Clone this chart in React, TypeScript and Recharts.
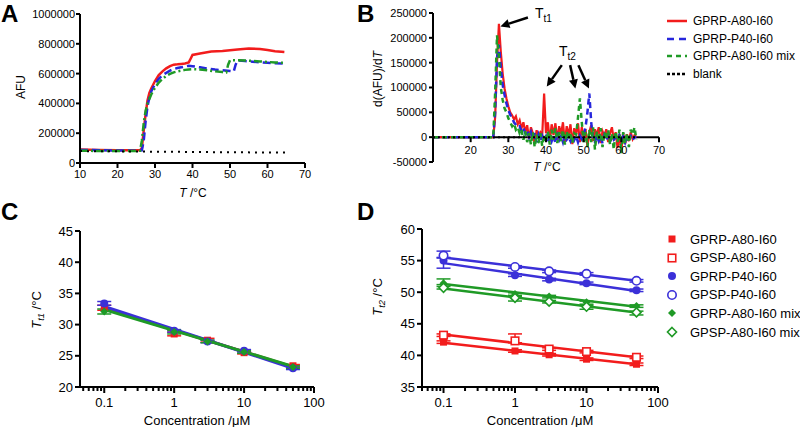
import React from "react";
import {
  LineChart,
  ComposedChart,
  Line,
  Scatter,
  XAxis,
  YAxis,
  ReferenceLine,
  ErrorBar,
} from "recharts";

const FONT = '"Liberation Sans", Arial, Helvetica, sans-serif';
const RED = "#f21c1c";
const BLUE = "#2626dc";
const GREEN = "#1f9a26";
const BLUE_D = "#3b30d8";

// ---- panel A: raw fluorescence, [T, AFU]
const aRed = [
  [10, 90000], [15, 88000], [20, 86000], [25, 85000], [26, 85000], [26.5, 100000],
  [27, 220000], [27.5, 330000], [28, 420000], [28.5, 470000], [29, 500000], [30, 550000],
  [31, 590000], [32, 615000], [33, 635000], [34, 650000], [35, 660000], [36, 662000],
  [37, 665000], [38, 668000], [39, 675000], [39.5, 700000], [40, 725000], [42, 735000],
  [45, 748000], [48, 752000], [50, 757000], [52, 762000], [55, 768000], [58, 765000],
  [60, 758000], [62, 750000], [64.5, 745000],
];
const aBlue = [
  [10, 88000], [20, 84000], [25, 83000], [26.5, 85000], [27, 150000], [27.5, 280000],
  [28, 380000], [28.5, 440000], [29, 480000], [30, 530000], [31, 565000], [32, 590000],
  [33, 605000], [34, 620000], [35, 630000], [36, 638000], [37, 642000], [38, 648000],
  [39, 652000], [40, 650000], [42, 642000], [44, 634000], [46, 627000], [48, 622000],
  [50, 618000], [51, 615000], [51.5, 660000], [52, 688000], [54, 684000], [56, 680000],
  [58, 676000], [60, 673000], [62, 670000], [64.5, 668000],
];
const aGreen = [
  [10, 82000], [20, 80000], [25, 80000], [26, 82000], [26.5, 150000], [27, 270000],
  [27.5, 350000], [28, 400000], [29, 460000], [30, 505000], [31, 540000], [32, 565000],
  [33, 585000], [34, 598000], [35, 608000], [36, 615000], [37, 620000], [38, 625000],
  [39, 628000], [40, 630000], [42, 628000], [44, 622000], [46, 615000], [48, 610000],
  [49, 608000], [49.5, 660000], [50, 690000], [52, 690000], [54, 688000], [56, 685000],
  [58, 682000], [60, 678000], [62, 675000], [64.5, 672000],
];
const aBlank = [[10, 80000], [20, 78000], [30, 76000], [40, 74000], [50, 72000], [65, 70000]];
const aXTicks = [10, 20, 30, 40, 50, 60, 70];
const aYTicks = [0, 200000, 400000, 600000, 800000, 1000000];

// ---- panel B: derivative, [T, d(AFU)/dT]
const bRed = [
  [10, 0], [15, 0], [20, 0], [25, 0], [26, 0], [26.5, 40000], [27, 150000], [27.5, 228000],
  [28, 172000], [28.5, 128000], [29, 98000], [29.5, 78000], [30, 62000], [30.5, 50000],
  [31, 44000], [31.5, 36000], [32, 42000], [32.5, 26000], [33, 34000], [33.5, 18000],
  [34, 30000], [34.5, 10000], [35, 24000], [35.5, -4000], [36, 20000], [36.5, 8000],
  [37, -14000], [37.5, 14000], [38, 2000], [38.5, 10000], [39, 4000], [39.5, 88000],
  [40, 8000], [40.5, 30000], [41, -8000], [41.5, 26000], [42, 4000], [42.5, 28000],
  [43, -6000], [43.5, 22000], [44, 6000], [44.5, 30000], [45, -10000], [45.5, 22000],
  [46, 4000], [46.5, 26000], [47, -14000], [47.5, 18000], [48, 6000], [48.5, 28000],
  [49, -10000], [49.5, 20000], [50, 2000], [50.5, 16000], [51, -18000], [51.5, 10000],
  [52, 24000], [52.5, -8000], [53, 16000], [53.5, 4000], [54, 20000], [54.5, -12000],
  [55, 12000], [55.5, 2000], [56, 16000], [56.5, -10000], [57, 8000], [57.5, 20000],
  [58, -6000], [58.5, 10000], [59, -22000], [59.5, 6000], [60, -26000], [60.5, 8000],
  [61, -14000], [61.5, 6000], [62, -8000], [62.5, 10000], [63, -4000], [63.5, 4000], [64, 0],
];
const bBlue = [
  [10, 0], [15, 0], [20, 0], [25, 0], [26, 0], [26.5, 50000], [27, 160000], [27.5, 186000],
  [28, 140000], [28.5, 105000], [29, 85000], [29.5, 68000], [30, 55000], [30.5, 45000],
  [31, 38000], [31.5, 30000], [32, 25000], [32.5, 20000], [33, 22000], [33.5, 12000],
  [34, 18000], [34.5, 8000], [35, 14000], [35.5, 0], [36, 10000], [36.5, -5000],
  [37, 8000], [37.5, -10000], [38, 5000], [38.5, -8000], [39, 3000], [39.5, -5000],
  [40, 2000], [40.5, -10000], [41, 5000], [41.5, -8000], [42, 3000], [42.5, -12000],
  [43, 4000], [43.5, -6000], [44, 2000], [44.5, -10000], [45, 5000], [45.5, -5000],
  [46, 0], [46.5, -8000], [47, 4000], [47.5, -6000], [48, 2000], [48.5, -10000],
  [49, 3000], [49.5, -4000], [50, 5000], [50.5, 20000], [51, 50000], [51.5, 88000],
  [52, 30000], [52.5, -5000], [53, -10000], [53.5, 3000], [54, -8000], [54.5, 2000],
  [55, -12000], [55.5, 4000], [56, -6000], [56.5, 2000], [57, -10000], [57.5, 3000],
  [58, -5000], [58.5, 0], [59, -8000], [59.5, 4000], [60, -6000], [60.5, 2000],
  [61, -10000], [61.5, 3000], [62, -4000], [62.5, 2000], [63, -6000], [63.5, 0], [64, 0],
];
const bGreen = [
  [10, 0], [15, 0], [20, 0], [25, 0], [26, 0], [26.5, 90000], [27, 205000], [27.5, 160000],
  [28, 100000], [28.5, 75000], [29, 58000], [29.5, 50000], [30, 38000], [30.5, 30000],
  [31, 22000], [31.5, 28000], [32, 15000], [32.5, 20000], [33, 8000], [33.5, 15000],
  [34, -5000], [34.5, 12000], [35, -10000], [35.5, 8000], [36, -15000], [36.5, 10000],
  [37, -20000], [37.5, 5000], [38, -12000], [38.5, 8000], [39, -18000], [39.5, 5000],
  [40, -10000], [40.5, 12000], [41, -15000], [41.5, 15000], [42, -5000], [42.5, 18000],
  [43, -12000], [43.5, 10000], [44, -8000], [44.5, 15000], [45, -15000], [45.5, 12000],
  [46, -5000], [46.5, 10000], [47, -12000], [47.5, 8000], [48, 5000], [48.5, 40000],
  [49, 78000], [49.5, 30000], [50, -10000], [50.5, 10000], [51, -20000], [51.5, 15000],
  [52, -10000], [52.5, 20000], [53, -25000], [53.5, 12000], [54, -8000], [54.5, 18000],
  [55, -20000], [55.5, 10000], [56, -5000], [56.5, 15000], [57, -15000], [57.5, 8000],
  [58, -25000], [58.5, 12000], [59, -10000], [59.5, 15000], [60, -32000], [60.5, 10000],
  [61, -12000], [61.5, 8000], [62, -20000], [62.5, 15000], [63, 5000], [63.5, 20000], [64, -5000],
];
const bBlank = [[10, 0], [64, 0]];
const bXTicks = [20, 30, 40, 50, 60, 70];
const bYTicks = [-50000, 0, 50000, 100000, 150000, 200000, 250000];
const B_YMIN = -50000;
const B_YMAX = 250000;
// annotation arrows, data coordinates [T, value]
const bArrows = [
  { from: [35.2, 241000], to: [27.9, 223000] },
  { from: [44.2, 145000], to: [40.2, 102000] },
  { from: [46.4, 145000], to: [47.8, 98000] },
  { from: [48.6, 145000], to: [51.4, 98000] },
];
const bLegend = [
  { name: "GPRP-A80-I60", color: RED, dash: undefined },
  { name: "GPRP-P40-I60", color: BLUE, dash: "7 5" },
  { name: "GPRP-A80-I60 mix", color: GREEN, dash: "5 4" },
  { name: "blank", color: "#000", dash: "3 2" },
];

// ---- panel C: Tt1 vs concentration
const conc = [0.1, 1, 3, 10, 50];
const cRed = [32.7, 28.5, 27.5, 25.5, 23.4];
const cBlue = [33.4, 29.0, 27.3, 25.8, 23.0];
const cGreen = [32.1, 28.8, 27.3, 25.6, 23.2];
const cRedErr = [[0.4, 0.4], [0.3, 0.3], [0.3, 0.3], [0.2, 0.2], [0.2, 0.2]];
const cBlueErr = [[0.3, 0.3], [0.2, 0.2], [0.2, 0.2], [0.2, 0.2], [0.2, 0.2]];
const cGreenErr = [[0.4, 0.4], [0.3, 0.3], [0.2, 0.2], [0.2, 0.2], [0.2, 0.2]];
const cFitRed = [[0.1, 32.6], [50, 23.2]];
const cFitBlue = [[0.1, 32.9], [50, 23.0]];
const cFitGreen = [[0.1, 32.4], [50, 23.3]];

// ---- panel D: Tt2 vs concentration
const dRedFill = [42.1, 40.7, 40.1, 39.4, 38.6];
const dRedOpen = [43.2, 42.3, 41.0, 40.6, 39.7];
const dBlueFill = [55.0, 52.7, 52.0, 51.4, 50.3];
const dBlueOpen = [55.8, 54.0, 53.3, 52.9, 51.8];
const dGreenFill = [51.4, 49.7, 49.3, 48.4, 47.8];
const dGreenOpen = [50.7, 49.1, 48.5, 47.7, 46.8];
const dRedFillErr = [[0.2, 0.2], [0.2, 0.2], [0.2, 0.2], [0.2, 0.2], [0.2, 0.2]];
const dRedOpenErr = [[0.2, 0.2], [0.3, 1.1], [0.2, 0.2], [0.2, 0.2], [0.2, 0.2]];
const dBlueFillErr = [[1.2, 0.4], [0.2, 0.2], [0.2, 0.2], [0.2, 0.2], [0.2, 0.2]];
const dBlueOpenErr = [[0.3, 0.7], [0.2, 0.2], [0.2, 0.2], [0.2, 0.2], [0.2, 0.2]];
const dGreenFillErr = [[0.2, 0.7], [0.2, 0.2], [0.2, 0.2], [0.3, 0.2], [0.2, 0.2]];
const dGreenOpenErr = [[0.2, 0.2], [0.5, 0.2], [0.2, 0.2], [0.4, 0.2], [0.4, 0.2]];
const dFitRedFill = [[0.1, 42.0], [50, 38.6]];
const dFitRedOpen = [[0.1, 43.3], [50, 39.7]];
const dFitBlueFill = [[0.1, 54.6], [50, 50.2]];
const dFitBlueOpen = [[0.1, 55.5], [50, 51.8]];
const dFitGreenFill = [[0.1, 51.3], [50, 47.7]];
const dFitGreenOpen = [[0.1, 50.6], [50, 46.8]];
const dLegend = [
  { name: "GPRP-A80-I60", kind: "square", color: RED, filled: true },
  { name: "GPSP-A80-I60", kind: "square", color: RED, filled: false },
  { name: "GPRP-P40-I60", kind: "circle", color: BLUE_D, filled: true },
  { name: "GPSP-P40-I60", kind: "circle", color: BLUE_D, filled: false },
  { name: "GPRP-A80-I60 mix", kind: "diamond", color: GREEN, filled: true },
  { name: "GPSP-A80-I60 mix", kind: "diamond", color: GREEN, filled: false },
];

const logTicks = (lo: number, hi: number) =>
  [0.01, 0.1, 1, 10]
    .flatMap((d) => [1, 2, 3, 4, 5, 6, 7, 8, 9].map((m) => m * d))
    .concat([100])
    .filter((v) => v >= lo - 1e-9 && v <= hi + 1e-9);

const pts = (a: number[][]) => a.map(([x, y]) => ({ x, y }));
const scat = (ys: number[], errs: number[][]) =>
  conc.map((x, i) => ({ x, y: ys[i], err: errs[i] }));

const AX = { stroke: "#000", strokeWidth: 2 };
const TICK11 = { fill: "#000", fontSize: 11, fontFamily: FONT };
const TICK13 = { fill: "#000", fontSize: 13, fontFamily: FONT };

function Marker({ kind, color, filled, cx, cy }: any) {
  const fill = filled ? color : "#fff";
  const sw = filled ? 0 : 1.6;
  if (kind === "square") {
    const s = filled ? 7 : 7.5;
    return <rect x={cx - s / 2} y={cy - s / 2} width={s} height={s} fill={fill} stroke={color} strokeWidth={sw} />;
  }
  if (kind === "circle") {
    return <circle cx={cx} cy={cy} r={filled ? 4 : 4.2} fill={fill} stroke={color} strokeWidth={sw} />;
  }
  const r = filled ? 4 : 4.5;
  return (
    <polygon
      points={`${cx},${cy - r} ${cx + r},${cy} ${cx},${cy + r} ${cx - r},${cy}`}
      fill={fill}
      stroke={color}
      strokeWidth={sw}
    />
  );
}

const LogTick = (p: any) => {
  const { x, y, payload } = p;
  const v = payload.value;
  const lg = Math.log10(v);
  const major = Math.abs(lg - Math.round(lg)) < 1e-6;
  return (
    <g>
      <line x1={x} x2={x} y1={y} y2={y + (major ? 6 : 4)} stroke="#000" strokeWidth={2} />
      {major && (
        <text x={x} y={y + 20} textAnchor="middle" fontSize={13} fontFamily={FONT} fill="#000">
          {String(Number(v.toPrecision(3)))}
        </text>
      )}
    </g>
  );
};

const Arrow = (p: any) => {
  const { x1, y1, x2, y2 } = p;
  if ([x1, y1, x2, y2].some((v) => typeof v !== "number")) return null;
  const a = Math.atan2(y2 - y1, x2 - x1);
  const L = 9;
  const W = 4.5;
  const bx = x2 - L * Math.cos(a);
  const by = y2 - L * Math.sin(a);
  const poly = `${x2},${y2} ${bx - W * Math.sin(a)},${by + W * Math.cos(a)} ${bx + W * Math.sin(a)},${by - W * Math.cos(a)}`;
  return (
    <g>
      <line x1={x1} y1={y1} x2={bx} y2={by} stroke="#000" strokeWidth={2.5} />
      <polygon points={poly} fill="#000" />
    </g>
  );
};

function Txt({ x, y, size = 12, rotate = false, bold = false, children }: any) {
  return (
    <div
      style={{
        position: "absolute",
        left: x,
        top: y,
        transform: `translate(-50%, -50%)${rotate ? " rotate(-90deg)" : ""}`,
        fontSize: size,
        fontWeight: bold ? 700 : 400,
        whiteSpace: "nowrap",
        lineHeight: 1,
      }}
    >
      {children}
    </div>
  );
}

const Sub = ({ children }: any) => (
  <span style={{ fontSize: "0.72em", position: "relative", top: "0.35em" }}>{children}</span>
);

function PanelA() {
  return (
    <LineChart width={320} height={200} margin={{ top: 14, right: 15, bottom: 7, left: 10 }}>
      <XAxis dataKey="x" type="number" domain={[10, 70]} ticks={aXTicks} interval={0} allowDataOverflow
        height={30} axisLine={AX} tickLine={AX} tickSize={5} tickMargin={2} tick={TICK11} />
      <YAxis dataKey="y" type="number" domain={[0, 1000000]} ticks={aYTicks} interval={0} allowDataOverflow
        width={70} axisLine={AX} tickLine={AX} tickSize={4} tickMargin={1} tick={TICK11} />
      <Line data={pts(aRed)} dataKey="y" stroke={RED} strokeWidth={2.5} dot={false} isAnimationActive={false} />
      <Line data={pts(aBlue)} dataKey="y" stroke={BLUE} strokeWidth={2.5} strokeDasharray="8 4" dot={false} isAnimationActive={false} />
      <Line data={pts(aGreen)} dataKey="y" stroke={GREEN} strokeWidth={2.5} strokeDasharray="8 3 2 3" dot={false} isAnimationActive={false} />
      <Line data={pts(aBlank)} dataKey="y" stroke="#000" strokeWidth={2} strokeDasharray="2 5" dot={false} isAnimationActive={false} />
    </LineChart>
  );
}

function PanelB() {
  const top = 13;
  const bottom = 18;
  const xh = 20;
  const h = 200;
  const plotH = h - top - bottom - xh;
  const shift = (plotH * (0 - B_YMIN)) / (B_YMAX - B_YMIN);
  const BTick = (p: any) => {
    const { x, y, payload } = p;
    const y0 = y - shift;
    return (
      <g>
        <line x1={x} x2={x} y1={y0} y2={y0 + 5} stroke="#000" strokeWidth={2} />
        <text x={x} y={y0 + 17} textAnchor="middle" fontSize={11} fontFamily={FONT} fill="#000">
          {payload.value}
        </text>
      </g>
    );
  };
  return (
    <LineChart width={330} height={h} margin={{ top, right: 11, bottom, left: 18 }}>
      <XAxis dataKey="x" type="number" domain={[10, 70]} ticks={bXTicks} interval={0} allowDataOverflow
        height={xh} axisLine={false} tickLine={false} tickSize={0} tickMargin={0} tick={(p: any) => <BTick {...p} />} />
      <YAxis dataKey="y" type="number" domain={[B_YMIN, B_YMAX]} ticks={bYTicks} interval={0} allowDataOverflow
        width={75} axisLine={AX} tickLine={AX} tickSize={4} tickMargin={2} tick={TICK11} />
      <ReferenceLine y={0} stroke="#000" strokeWidth={2} />
      <Line data={pts(bRed)} dataKey="y" stroke={RED} strokeWidth={2.2} dot={false} isAnimationActive={false} />
      <Line data={pts(bBlue)} dataKey="y" stroke={BLUE} strokeWidth={2.5} strokeDasharray="6 4" dot={false} isAnimationActive={false} />
      <Line data={pts(bGreen)} dataKey="y" stroke={GREEN} strokeWidth={2.5} strokeDasharray="5 4" dot={false} isAnimationActive={false} />
      <Line data={pts(bBlank)} dataKey="y" stroke="#000" strokeWidth={2} strokeDasharray="2 3" dot={false} isAnimationActive={false} />
      {bArrows.map((a, i) => (
        <ReferenceLine
          key={i}
          segment={[{ x: a.from[0], y: a.from[1] }, { x: a.to[0], y: a.to[1] }]}
          ifOverflow="visible"
          shape={(p: any) => <Arrow {...p} />}
        />
      ))}
    </LineChart>
  );
}

function ConcChart({ domain, yDomain, yTicks, margin, series, fits }: any) {
  return (
    <ComposedChart width={330} height={227} margin={margin}>
      <XAxis dataKey="x" type="number" scale="log" domain={domain} ticks={logTicks(domain[0], domain[1])}
        interval={0} allowDataOverflow height={22} axisLine={AX} tickLine={false} tickSize={0} tickMargin={0}
        tick={(p: any) => <LogTick {...p} />} />
      <YAxis dataKey="y" type="number" domain={yDomain} ticks={yTicks} interval={0} allowDataOverflow
        width={60} axisLine={AX} tickLine={AX} tickSize={5} tickMargin={2} tick={TICK13} />
      {series.map((s: any, i: number) => (
        <Scatter key={"s" + i} data={s.data} dataKey="y" isAnimationActive={false}
          shape={(p: any) => <Marker kind={s.kind} color={s.color} filled={s.filled} cx={p.cx} cy={p.cy} />}>
          <ErrorBar dataKey="err" direction="y" width={7} stroke={s.color} strokeWidth={1.5} />
        </Scatter>
      ))}
      {fits.map((f: any, i: number) => (
        <Line key={"f" + i} data={pts(f.data)} dataKey="y" stroke={f.color} strokeWidth={f.w || 2.5}
          dot={false} isAnimationActive={false} />
      ))}
    </ComposedChart>
  );
}

export default function App() {
  return (
    <div style={{ position: "absolute", left: 0, top: 0, width: 800, height: 427, background: "#fff", fontFamily: FONT, color: "#000", overflow: "hidden" }}>
      <div style={{ position: "absolute", left: 0, top: 0 }}><PanelA /></div>
      <div style={{ position: "absolute", left: 340, top: 0 }}><PanelB /></div>
      <div style={{ position: "absolute", left: 0, top: 200 }}>
        <ConcChart
          domain={[0.045, 100]}
          yDomain={[20, 45]}
          yTicks={[20, 25, 30, 35, 40, 45]}
          margin={{ top: 31, right: 16, bottom: 18, left: 20 }}
          series={[
            { data: scat(cRed, cRedErr), kind: "square", color: RED, filled: true },
            { data: scat(cBlue, cBlueErr), kind: "circle", color: BLUE_D, filled: true },
            { data: scat(cGreen, cGreenErr), kind: "diamond", color: GREEN, filled: true },
          ]}
          fits={[
            { data: cFitRed, color: RED, w: 3 },
            { data: cFitBlue, color: BLUE_D, w: 3 },
            { data: cFitGreen, color: GREEN, w: 3 },
          ]}
        />
      </div>
      <div style={{ position: "absolute", left: 340, top: 200 }}>
        <ConcChart
          domain={[0.05, 100]}
          yDomain={[35, 60]}
          yTicks={[35, 40, 45, 50, 55, 60]}
          margin={{ top: 29, right: 12, bottom: 18, left: 22 }}
          series={[
            { data: scat(dRedFill, dRedFillErr), kind: "square", color: RED, filled: true },
            { data: scat(dRedOpen, dRedOpenErr), kind: "square", color: RED, filled: false },
            { data: scat(dBlueFill, dBlueFillErr), kind: "circle", color: BLUE_D, filled: true },
            { data: scat(dBlueOpen, dBlueOpenErr), kind: "circle", color: BLUE_D, filled: false },
            { data: scat(dGreenFill, dGreenFillErr), kind: "diamond", color: GREEN, filled: true },
            { data: scat(dGreenOpen, dGreenOpenErr), kind: "diamond", color: GREEN, filled: false },
          ]}
          fits={[
            { data: dFitRedFill, color: RED },
            { data: dFitRedOpen, color: RED },
            { data: dFitBlueFill, color: BLUE_D },
            { data: dFitBlueOpen, color: BLUE_D },
            { data: dFitGreenFill, color: GREEN },
            { data: dFitGreenOpen, color: GREEN },
          ]}
        />
      </div>

      {/* panel letters */}
      <div style={{ position: "absolute", left: 1, top: 2, fontSize: 24, fontWeight: 700, lineHeight: 1 }}>A</div>
      <div style={{ position: "absolute", left: 357, top: 2, fontSize: 24, fontWeight: 700, lineHeight: 1 }}>B</div>
      <div style={{ position: "absolute", left: 1, top: 200, fontSize: 24, fontWeight: 700, lineHeight: 1 }}>C</div>
      <div style={{ position: "absolute", left: 357, top: 200, fontSize: 24, fontWeight: 700, lineHeight: 1 }}>D</div>

      {/* axis titles */}
      <Txt x={21} y={87} rotate>AFU</Txt>
      <Txt x={193} y={193}><i>T</i> /°C</Txt>
      <Txt x={378} y={79} rotate>d(AFU)/d<i>T</i></Txt>
      <Txt x={547} y={167}><i>T</i> /°C</Txt>
      <Txt x={37} y={310} size={13} rotate><i>T</i><Sub><i>t1</i></Sub> /°C</Txt>
      <Txt x={197} y={420} size={13}>Concentration /μM</Txt>
      <Txt x={378} y={297} size={13} rotate><i>T</i><Sub><i>t2</i></Sub> /°C</Txt>
      <Txt x={540} y={420} size={13}>Concentration /μM</Txt>

      {/* annotations in B */}
      <div style={{ position: "absolute", left: 535, top: 6, fontSize: 14, lineHeight: 1 }}>T<Sub>t1</Sub></div>
      <div style={{ position: "absolute", left: 559, top: 44, fontSize: 14, lineHeight: 1 }}>T<Sub>t2</Sub></div>

      {/* legend B */}
      {bLegend.map((e, i) => (
        <div key={i} style={{ position: "absolute", left: 667, top: 13 + i * 17.6, height: 16, display: "flex", alignItems: "center", whiteSpace: "nowrap" }}>
          <svg width={20} height={4}>
            <line x1={0} x2={20} y1={2} y2={2} stroke={e.color} strokeWidth={2.5} strokeDasharray={e.dash} />
          </svg>
          <span style={{ marginLeft: 6, fontSize: 12 }}>{e.name}</span>
        </div>
      ))}

      {/* legend D */}
      {dLegend.map((e, i) => (
        <div key={i} style={{ position: "absolute", left: 665, top: 231 + i * 18.6, height: 16, display: "flex", alignItems: "center", whiteSpace: "nowrap" }}>
          <svg width={14} height={14}>
            <Marker kind={e.kind} color={e.color} filled={e.filled} cx={7} cy={7} />
          </svg>
          <span style={{ marginLeft: 11, fontSize: 13 }}>{e.name}</span>
        </div>
      ))}
    </div>
  );
}
